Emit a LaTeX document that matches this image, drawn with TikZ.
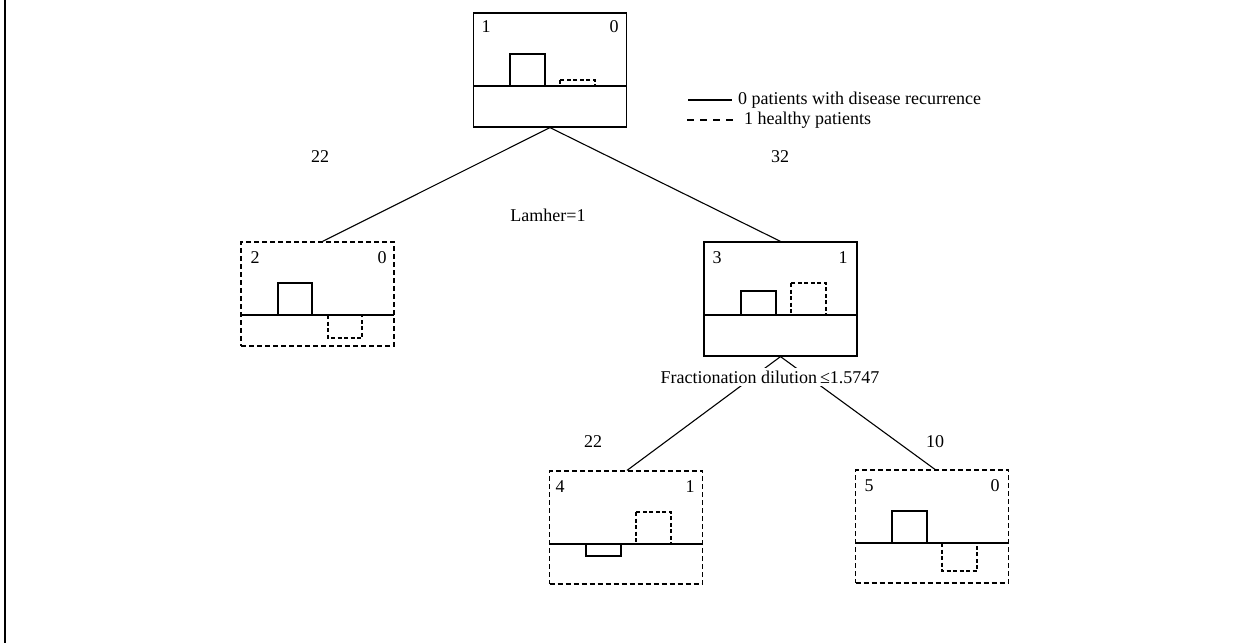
\documentclass[tikz,border=0pt]{standalone}
\usepackage{fontspec}
\setmainfont{Liberation Serif}
\begin{document}
\begin{tikzpicture}[x=1pt,y=-1pt,
  font=\fontsize{18}{20}\selectfont,
  every node/.style={inner sep=0pt},
  box/.style={draw, line width=1.2pt, minimum width=153pt, minimum height=#1, inner sep=0pt},
  solidbox/.style={box=#1},
  dashbox/.style={box=#1, dash pattern=on 5pt off 3pt},
  inner/.style={draw, line width=1.1pt},
  innerd/.style={draw, line width=1.1pt, dash pattern=on 4pt off 2.5pt},
  edge/.style={draw, line width=1.1pt},
  lbl/.style={anchor=center}]
\useasboundingbox (0,0) rectangle (1243,643);
\draw[line width=1.5pt] (5,0) -- (5,643);

% boxes
\node[solidbox=114pt] (n1) at (550,70) {};
\node[dashbox=104pt] (n2) at (317.5,294) {};
\node[solidbox=114pt] (n3) at (780.5,299) {};
\node[dashbox=113pt] (n4) at (626,527.5) {};
\node[dashbox=113pt] (n5) at (932,526.5) {};

% node 1 content
\node[lbl] (t1a) at (486,27) {1};
\node[lbl] (t1b) at (614,27) {0};
\draw[line width=1.1pt] (473,86) -- (627,86);
\draw[inner] (510,54) rectangle (545,86);
\draw[innerd] (560,80) rectangle (595,86);

% node 2 content
\node[lbl] (t2a) at (255,258) {2};
\node[lbl] (t2b) at (382,258) {0};
\draw[line width=1.1pt] (241,315) -- (394,315);
\draw[inner] (278,283) rectangle (312,315);
\draw[innerd] (328,315) rectangle (362,338);

% node 3 content
\node[lbl] (t3a) at (717,258) {3};
\node[lbl] (t3b) at (843,258) {1};
\draw[line width=1.1pt] (704,315) -- (857,315);
\draw[inner] (741,291) rectangle (776,315);
\draw[innerd] (791,283) rectangle (826,315);

% node 4 content
\node[lbl] (t4a) at (560,487) {4};
\node[lbl] (t4b) at (690,487) {1};
\draw[line width=1.1pt] (549,544) -- (703,544);
\draw[inner] (586,544) rectangle (621,556);
\draw[innerd] (636,512) rectangle (671,544);

% node 5 content
\node[lbl] (t5a) at (869,486) {5};
\node[lbl] (t5b) at (995,486) {0};
\draw[line width=1.1pt] (856,543) -- (1008,543);
\draw[inner] (892,511) rectangle (927,543);
\draw[innerd] (942,543) rectangle (977,571);

% connectors
\draw[edge] (n1.south) -- ([xshift=5pt]n2.north);
\draw[edge] (n1.south) -- (n3.north);
\draw[edge] (n3.south) -- ([xshift=1pt]n4.north);
\draw[edge] (n3.south) -- ([xshift=3pt]n5.north);

% edge labels
\node[lbl] (e12) at (320,157) {22};
\node[lbl] (e13) at (780,157) {32};
\node[lbl] (split1) at (548,215) {Lamher=1};
\node[lbl, fill=white, inner ysep=3pt, inner xsep=1pt] (split3) at (770,377) {Fractionation dilution\,≤1.5747};
\node[lbl] (e34) at (593,442) {22};
\node[lbl] (e35) at (935,442) {10};

% legend
\coordinate (l1a) at (688,100);
\coordinate (l1b) at (732,100);
\coordinate (l2a) at (687,120);
\coordinate (l2b) at (733,120);
\draw[line width=1.5pt] (l1a) -- (l1b);
\draw[line width=1.5pt, dash pattern=on 7pt off 6pt] (l2a) -- (l2b);
\node[anchor=west] (leg1) at (738,100) {0 patients with disease recurrence};
\node[anchor=west] (leg2) at (744,120) {1 healthy patients};
\end{tikzpicture}
\end{document}
